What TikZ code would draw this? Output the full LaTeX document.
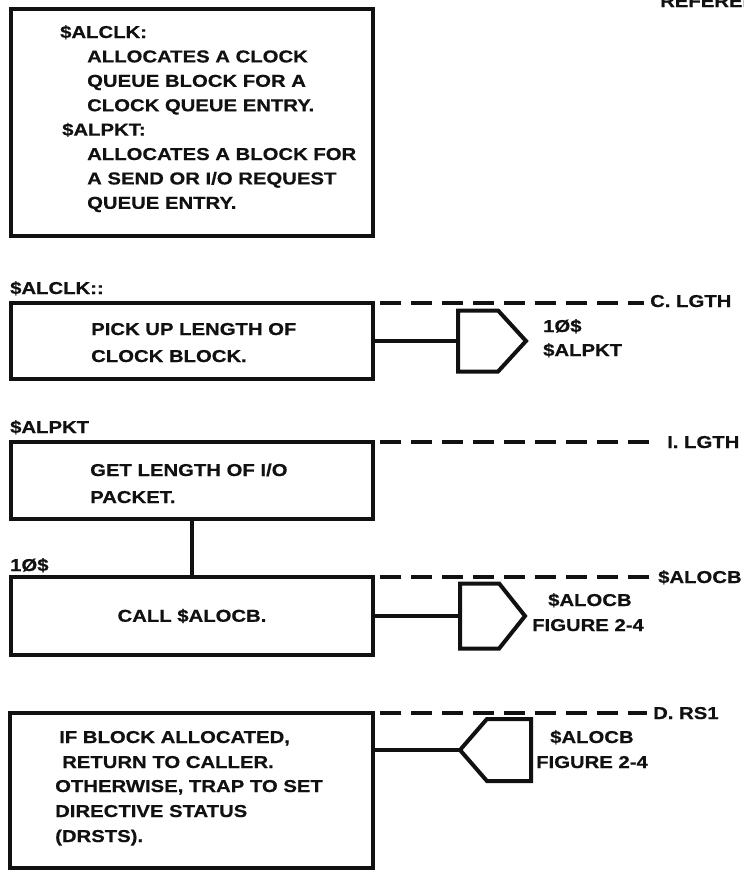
\documentclass[tikz,border=0pt]{standalone}
\usepackage{fontspec}
\setmainfont{Liberation Sans}[FakeStretch=1.18, BoldFeatures={FakeBold=0.6}]
\usetikzlibrary{shapes.symbols, positioning}

\begin{document}
\begin{tikzpicture}[
    x=1pt, y=-1pt,
    every node/.style={font=\bfseries\fontsize{17.2}{24.5}\selectfont},
]

% ---------------------------------------------------------------- colours
\definecolor{ink}{HTML}{111111}   % everything on the sheet
\definecolor{paper}{HTML}{FFFFFF}

\tikzset{
    stepbox/.style={rectangle, draw=ink, line width=3.6pt, inner sep=0pt,
                    outer sep=0pt, anchor=north west, minimum width=362pt,
                    text=ink},
    txt/.style={anchor=base west, inner sep=0pt, text=ink},
    exitsig/.style={signal, draw=ink, line width=4pt, inner sep=0pt,
                    outer sep=0pt, signal from=nowhere},
    wire/.style={draw=ink, line width=3.2pt},
    guide/.style={draw=ink, line width=3.4pt, dash pattern=on 21pt off 10pt,
                  dash phase=24pt, shorten >=6pt},
}

% ================================================================
% sheet is 744 x 871, one unit = one pixel, y runs downwards
%   boxes     x = 11 .. 373
%   exits     x = 458 .. 531
%   refs      x = 650 ..
% ================================================================
\fill[paper] (0,0) rectangle (744,871);
\clip (0,0) rectangle (744,871);

\node[txt] (refhdr) at (660, 7) {REFERENCE};

% ----------------------------------------------------------------------
% summary box
% ----------------------------------------------------------------------
\node[stepbox, minimum height=227pt] (intro) at (11, 9) {};

\foreach \x/\y/\t [count=\i] in {60/38/{\$ALCLK:},
        87/62.4/{ALLOCATES A CLOCK}, 87/86.8/{QUEUE BLOCK FOR A},
        87/111.2/{CLOCK QUEUE ENTRY.}, 62/135.6/{\$ALPKT:},
        87/160/{ALLOCATES A BLOCK FOR}, 87/184.4/{A SEND OR I/O REQUEST},
        87/208.8/{QUEUE ENTRY.}}
    \node[txt] (intro-\i) at (\x, \y) {\t};

% ----------------------------------------------------------------------
% $ALCLK:: entry
% ----------------------------------------------------------------------
\node[txt] (entryclk) at (10, 294) {\$ALCLK::};
\node[stepbox, minimum height=76pt] (pickup) at (11, 303) {};
\node[txt] (pickup-1) at (91, 335) {PICK UP LENGTH OF};
\node[txt] (pickup-2) at (91, 362) {CLOCK BLOCK.};

\node[txt] (lgthc) at (650, 307) {C. LGTH};
\draw[guide] (pickup.north east) -- (lgthc.west |- pickup.north east);

\node[exitsig, signal to=east, signal pointer angle=95,
      minimum width=68pt, minimum height=61pt, anchor=west] (exit2) at (458, 341) {};
\draw[wire] (pickup.east) -- (exit2.west);
\node[txt] (exit2-1) at (543, 332) {1Ø\$};
\node[txt] (exit2-2) at (543, 356) {\$ALPKT};

% ----------------------------------------------------------------------
% $ALPKT entry
% ----------------------------------------------------------------------
\node[txt] (entrypkt) at (10, 433) {\$ALPKT};
\node[stepbox, minimum height=77pt] (getlen) at (11, 442) {};
\node[txt] (getlen-1) at (90, 476) {GET LENGTH OF I/O};
\node[txt] (getlen-2) at (90, 503) {PACKET.};

\node[txt] (lgthi) at (667, 448) {I. LGTH};
\draw[guide, shorten >=12pt] (getlen.north east) -- (lgthi.west |- getlen.north east);

% ----------------------------------------------------------------------
% 10$ : call $ALOCB
% ----------------------------------------------------------------------
\node[txt] (entryten) at (10, 571) {1Ø\$};
\node[stepbox, minimum height=78pt] (callalo) at (11, 577) {CALL \$ALOCB.};
\draw[wire] (getlen.south) -- (callalo.north);

\node[txt] (alocbref) at (658, 583) {\$ALOCB};
\draw[guide] (callalo.north east) -- (alocbref.west |- callalo.north east);

\node[exitsig, signal to=east, signal pointer angle=103,
      minimum width=65pt, minimum height=65pt, anchor=west] (exit4) at (460, 616) {};
\draw[wire] (callalo.east) -- (exit4.west);
\node[txt] (exit4-1) at (548, 606) {\$ALOCB};
\node[txt] (exit4-2) at (532, 631) {FIGURE 2-4};

% ----------------------------------------------------------------------
% back from $ALOCB
% ----------------------------------------------------------------------
\node[stepbox, minimum width=363pt, minimum height=155pt] (retblk) at (10, 713) {};

\foreach \x/\y/\t [count=\i] in {59/743/{IF BLOCK ALLOCATED,},
        62/768/{RETURN TO CALLER.}, 55/792/{OTHERWISE, TRAP TO SET},
        55/817/{DIRECTIVE STATUS}, 55/842/{(DRSTS).}}
    \node[txt] (retblk-\i) at (\x, \y) {\t};

\node[txt] (rsone) at (653, 719) {D. RS1};
\draw[guide] (retblk.north east) -- (rsone.west |- retblk.north east);

\node[exitsig, signal to=west, signal pointer angle=98,
      minimum width=71pt, minimum height=62pt, anchor=east] (exit5) at (531, 750) {};
\draw[wire] (retblk.east |- exit5.west) -- (exit5.west);
\node[txt] (exit5-1) at (550, 743) {\$ALOCB};
\node[txt] (exit5-2) at (536, 768) {FIGURE 2-4};

\end{tikzpicture}
\end{document}
